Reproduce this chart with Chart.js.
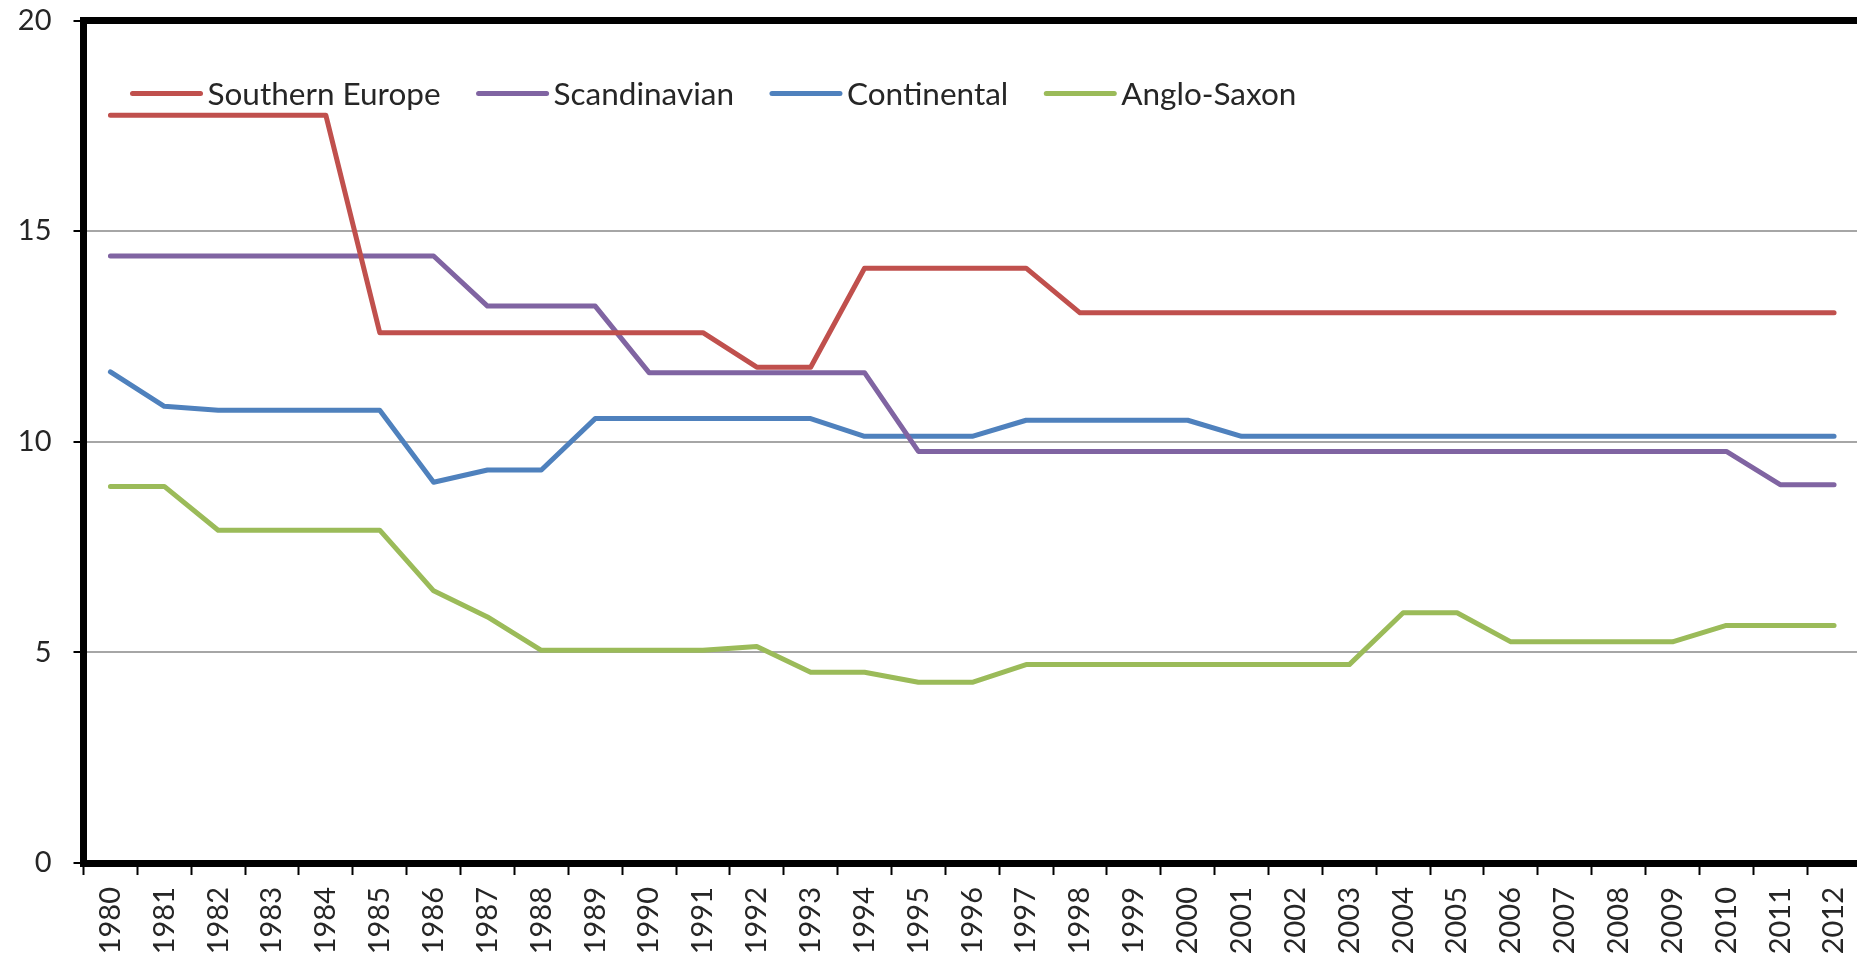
<!DOCTYPE html>
<html>
<head>
<meta charset="utf-8">
<title>Regional rates 1980-2012</title>
<script src="https://cdn.jsdelivr.net/npm/chart.js@4.4.1/dist/chart.umd.min.js"></script>
<style>
  html, body { margin: 0; padding: 0; background: #fff; overflow: hidden; }
  .chart-wrap { position: relative; width: 1870px; height: 960px; }
</style>
</head>
<body>
<div class="chart-wrap"><canvas id="rates-chart" width="1870" height="960"></canvas></div>
<script>
// ---- Data ----
const years = ['1980', '1981', '1982', '1983', '1984', '1985', '1986', '1987', '1988', '1989', '1990',
  '1991', '1992', '1993', '1994', '1995', '1996', '1997', '1998', '1999', '2000', '2001',
  '2002', '2003', '2004', '2005', '2006', '2007', '2008', '2009', '2010', '2011', '2012'];

const southernEurope = [17.75, 17.75, 17.75, 17.75, 17.75, 12.59, 12.59, 12.59, 12.59, 12.59, 12.59,
  12.59, 11.77, 11.77, 14.12, 14.12, 14.12, 14.12, 13.06, 13.06, 13.06, 13.06,
  13.06, 13.06, 13.06, 13.06, 13.06, 13.06, 13.06, 13.06, 13.06, 13.06, 13.06];

const scandinavian = [14.41, 14.41, 14.41, 14.41, 14.41, 14.41, 14.41, 13.22, 13.22, 13.22, 11.64,
  11.64, 11.64, 11.64, 11.64, 9.77, 9.77, 9.77, 9.77, 9.77, 9.77, 9.77,
  9.77, 9.77, 9.77, 9.77, 9.77, 9.77, 9.77, 9.77, 9.77, 8.98, 8.98];

const continental = [11.66, 10.84, 10.75, 10.75, 10.75, 10.75, 9.04, 9.33, 9.33, 10.55, 10.55,
  10.55, 10.55, 10.55, 10.13, 10.13, 10.13, 10.51, 10.51, 10.51, 10.51, 10.13,
  10.13, 10.13, 10.13, 10.13, 10.13, 10.13, 10.13, 10.13, 10.13, 10.13, 10.13];

const angloSaxon = [8.94, 8.94, 7.90, 7.90, 7.90, 7.90, 6.46, 5.84, 5.05, 5.05, 5.05,
  5.05, 5.14, 4.53, 4.53, 4.29, 4.29, 4.71, 4.71, 4.71, 4.71, 4.71,
  4.71, 4.71, 5.94, 5.94, 5.25, 5.25, 5.25, 5.25, 5.64, 5.64, 5.64];

const yTicks = [0, 5, 10, 15, 20];

// ---- Look ----
const TEXT = '#262626';
const FRAME = 7;
const LINE_W = 5;

Chart.defaults.font.family = 'Lato, "Open Sans", sans-serif';

// legend drawn inside the plot, top-left, like the spreadsheet original
const insideLegend = {
  id: 'insideLegend',
  afterDatasetsDraw(chart) {
    const ctx = chart.ctx;
    const area = chart.chartArea;
    let x = area.left + 47;
    const y = area.top + 73;
    ctx.save();
    ctx.font = '31.5px Lato, "Open Sans", sans-serif';
    ctx.textBaseline = 'middle';
    ctx.lineCap = 'round';
    chart.data.datasets.forEach(ds => {
      ctx.strokeStyle = ds.borderColor;
      ctx.lineWidth = LINE_W;
      ctx.beginPath();
      ctx.moveTo(x + 2, y);
      ctx.lineTo(x + 70, y);
      ctx.stroke();
      x += 77;
      ctx.fillStyle = TEXT;
      ctx.fillText(ds.label, x, y + 1);
      x += ctx.measureText(ds.label).width + 36;
    });
    ctx.restore();
  }
};

// thick top edge of the frame (left/bottom come from the axis borders)
const topFrame = {
  id: 'topFrame',
  afterDatasetsDraw(chart) {
    const ctx = chart.ctx;
    const area = chart.chartArea;
    ctx.save();
    ctx.strokeStyle = '#000';
    ctx.lineWidth = FRAME;
    ctx.beginPath();
    ctx.moveTo(area.left - FRAME / 2, area.top);
    ctx.lineTo(chart.width, area.top);
    ctx.stroke();
    ctx.restore();
  }
};

function series(label, data, color) {
  return {
    label,
    data,
    borderColor: color,
    backgroundColor: color,
    borderWidth: LINE_W,
    pointRadius: 0,
    pointHoverRadius: 0,
    tension: 0,
    fill: false,
    borderJoinStyle: 'round',
    borderCapStyle: 'round'
  };
}

new Chart(document.getElementById('rates-chart'), {
  type: 'line',
  data: {
    labels: years,
    datasets: [
      series('Southern Europe', southernEurope, '#C0504D'),
      series('Scandinavian', scandinavian, '#8064A2'),
      series('Continental', continental, '#4F81BD'),
      series('Anglo-Saxon', angloSaxon, '#9BBB59')
    ]
  },
  options: {
    responsive: false,
    animation: false,
    devicePixelRatio: 1,
    layout: { padding: { top: 20.5, right: 9, left: 0, bottom: 0 } },
    plugins: {
      legend: { display: false },
      tooltip: { enabled: false }
    },
    scales: {
      x: {
        type: 'category',
        offset: true,
        grid: {
          offset: true,
          drawOnChartArea: false,
          drawTicks: true,
          tickLength: 12,
          tickColor: '#000',
          tickWidth: 2
        },
        border: { display: true, color: '#000', width: FRAME },
        ticks: {
          autoSkip: false,
          minRotation: 90,
          maxRotation: 90,
          padding: 12,
          color: TEXT,
          font: { size: 29 }
        },
        afterFit(scale) {
          scale.height = 97;
          scale.paddingLeft = 0;
          scale.paddingRight = 0;
        }
      },
      y: {
        min: yTicks[0],
        max: yTicks[yTicks.length - 1],
        afterBuildTicks(scale) { scale.ticks = yTicks.map(v => ({ value: v })); },
        grid: {
          color: '#a6a6a6',
          lineWidth: 2,
          tickLength: 10,
          tickColor: '#000',
          tickWidth: 2
        },
        border: { display: true, color: '#000', width: FRAME },
        ticks: {
          padding: 22,
          color: TEXT,
          font: { size: 29 }
        },
        afterFit(scale) {
          scale.width = 83.5;
          scale.paddingTop = 0;
          scale.paddingBottom = 0;
        }
      }
    }
  },
  plugins: [insideLegend, topFrame]
});
</script>
</body>
</html>
